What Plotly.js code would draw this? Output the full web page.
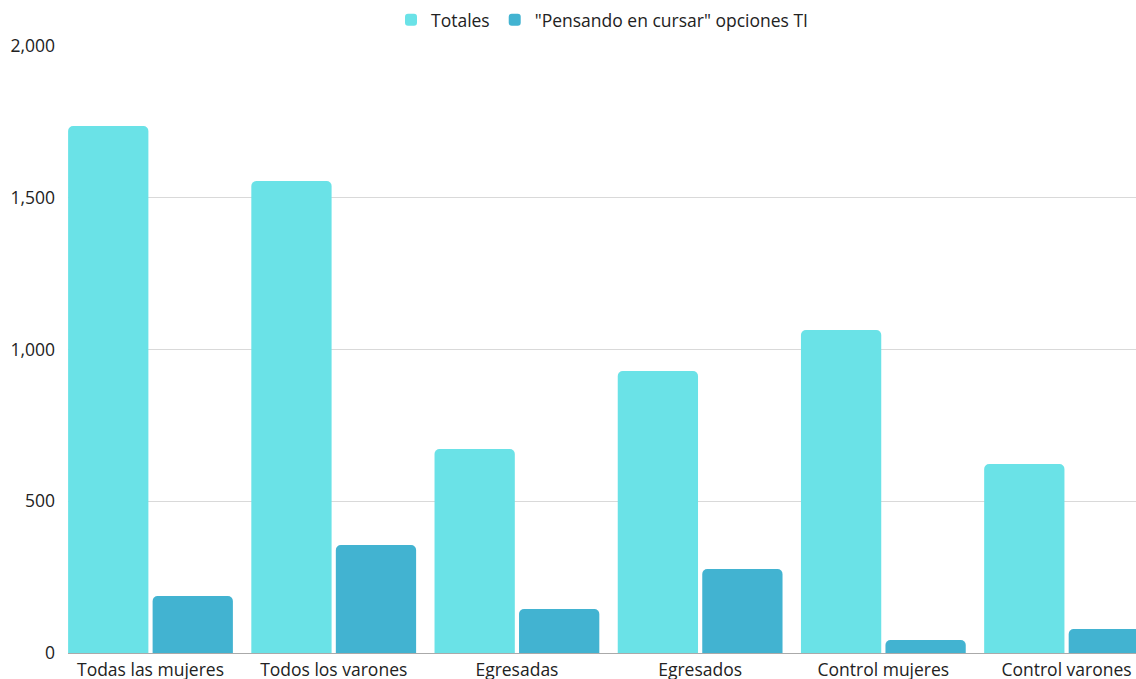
<!DOCTYPE html>
<html>
<head>
<meta charset="utf-8">
<script src="https://cdn.plot.ly/plotly-3.0.1.min.js"></script>
<style>
  html, body { margin: 0; padding: 0; background: #fff; }
  #chart { width: 1136px; height: 679px; }
</style>
</head>
<body>
<div id="chart"></div>
<script>
// Grupos de la encuesta
const categorias = [
  "Todas las mujeres",
  "Todos los varones",
  "Egresadas",
  "Egresados",
  "Control mujeres",
  "Control varones"
];

// Total de respuestas por grupo
const totales = [1736, 1555, 672, 929, 1064, 623];

// Respuestas "Pensando en cursar" opciones TI
const pensando = [188, 356, 145, 277, 43, 79];

const nombreTotales = "Totales";
const nombrePensando = "\"Pensando en cursar\" opciones TI";

const ticksY = [0, 500, 1000, 1500, 2000];
const etiquetasY = ["0", "500", "1,000", "1,500", "2,000"];

const trazas = [
  {
    type: "bar",
    name: nombreTotales,
    x: categorias,
    y: totales,
    marker: { color: "#6ae2e7", cornerradius: 5 },
    hoverinfo: "x+y+name"
  },
  {
    type: "bar",
    name: nombrePensando,
    x: categorias,
    y: pensando,
    marker: { color: "#42b3d1", cornerradius: 5 },
    hoverinfo: "x+y+name"
  }
];

const layout = {
  width: 1136,
  height: 679,
  margin: { l: 68, r: 0, t: 46, b: 26 },
  paper_bgcolor: "#ffffff",
  plot_bgcolor: "#ffffff",
  font: { family: "Open Sans, sans-serif", size: 17.5, color: "#222222" },
  barmode: "group",
  bargap: 0.0775,
  bargroupgap: 0.05,
  showlegend: true,
  legend: {
    orientation: "h",
    x: 0.5,
    xanchor: "center",
    y: 1.043,
    yanchor: "middle",
    yref: "paper",
    font: { size: 17.5, color: "#222222" },
    itemwidth: 30,
    tracegroupgap: 0
  },
  xaxis: {
    type: "category",
    range: [-0.4503, 5.379],
    showgrid: false,
    showline: true,
    linecolor: "#aaaaaa",
    linewidth: 1,
    ticks: "",
    ticklabelstandoff: 1,
    tickfont: { size: 17.5, color: "#222222" },
    fixedrange: true
  },
  yaxis: {
    range: [0, 2000],
    tickvals: ticksY,
    ticktext: etiquetasY,
    showgrid: true,
    gridcolor: "#d9d9d9",
    gridwidth: 1,
    zeroline: false,
    showline: false,
    ticks: "",
    ticklabelstandoff: 12,
    tickfont: { size: 17.5, color: "#222222" },
    fixedrange: true
  }
};

Plotly.newPlot("chart", trazas, layout, { displayModeBar: false, staticPlot: true });
</script>
</body>
</html>
